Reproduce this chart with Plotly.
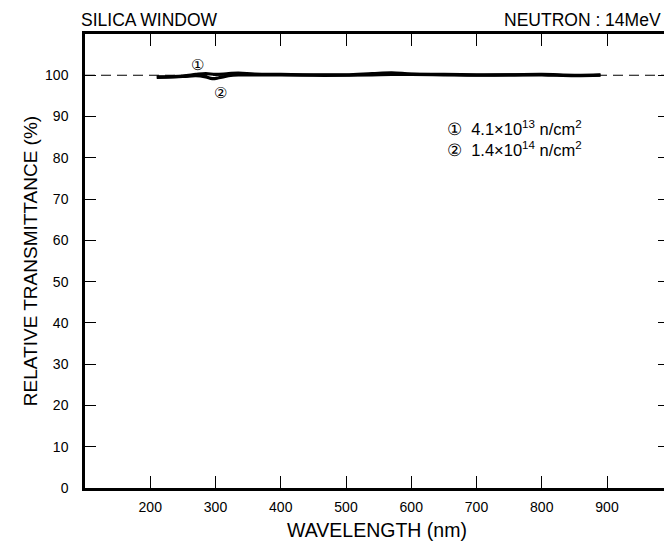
import plotly.graph_objects as go

wl1 = [210, 250, 270, 285, 300, 320, 335, 360, 400, 450, 500, 540, 570, 600, 650, 700, 750, 800, 850, 890]
t1 = [99.6, 99.8, 100.2, 100.4, 100.2, 100.4, 100.5, 100.3, 100.2, 100.1, 100.1, 100.4, 100.6, 100.3, 100.2, 100.1, 100.1, 100.2, 100.0, 100.1]
wl2 = [210, 250, 270, 285, 295, 305, 320, 335, 360, 400, 450, 500, 540, 570, 600, 650, 700, 750, 800, 850, 890]
t2 = [99.5, 99.7, 99.9, 99.6, 99.2, 99.4, 99.9, 100.1, 100.1, 100.1, 100.0, 100.0, 100.1, 100.2, 100.2, 100.1, 100.0, 100.1, 100.1, 99.9, 100.0]

x_ticks = [200, 300, 400, 500, 600, 700, 800, 900]
y_ticks = [0, 10, 20, 30, 40, 50, 60, 70, 80, 90, 100]

FONT = "Liberation Sans, Arial, Helvetica, sans-serif"

fig = go.Figure()
fig.add_trace(go.Scatter(x=wl1, y=t1, mode="lines", line=dict(color="black", width=3.2, shape="spline"), showlegend=False))
fig.add_trace(go.Scatter(x=wl2, y=t2, mode="lines", line=dict(color="black", width=3.2, shape="spline"), showlegend=False))

fig.add_shape(type="line", xref="paper", yref="y", x0=0, x1=1, y0=100, y1=100,
              line=dict(color="black", width=1.2, dash="10px,6px"), layer="below")

fig.add_annotation(x=272, y=102.7, text="①", showarrow=False, font=dict(size=15, family=FONT, color="black"))
fig.add_annotation(x=307, y=95.9, text="②", showarrow=False, font=dict(size=15, family=FONT, color="black"))
fig.add_annotation(x=651, y=84.8, xanchor="left", yanchor="middle",
                   text="①  4.1×10<sup>13</sup> n/cm<sup>2</sup><br>②  1.4×10<sup>14</sup> n/cm<sup>2</sup>",
                   align="left", showarrow=False, font=dict(size=16.5, family=FONT, color="black"))

fig.add_annotation(xref="paper", yref="paper", x=-0.01, y=1.004, xanchor="left", yanchor="bottom",
                   text="SILICA WINDOW", showarrow=False, font=dict(size=17.5, family=FONT, color="black"))
fig.add_annotation(xref="paper", yref="paper", x=0.99, y=1.004, xanchor="right", yanchor="bottom",
                   text="NEUTRON : 14MeV", showarrow=False, font=dict(size=17.5, family=FONT, color="black"))

fig.update_layout(
    width=664, height=533,
    margin=dict(l=77, r=0, t=26, b=53),
    paper_bgcolor="white", plot_bgcolor="white",
    font=dict(family=FONT, size=14, color="black"),
)
fig.update_xaxes(range=[100, 995], tickvals=x_ticks, ticks="inside", ticklen=12, tickwidth=1.2,
                 tickcolor="black", showline=True, linecolor="black", linewidth=2.5, mirror="ticks",
                 showgrid=False, zeroline=False, tickfont=dict(size=14), ticklabelstandoff=4,
                 title=dict(text="WAVELENGTH (nm)", font=dict(size=19.5), standoff=12))
fig.update_yaxes(range=[0, 110], tickvals=y_ticks, ticks="inside", ticklen=11, tickwidth=1.2,
                 tickcolor="black", showline=True, linecolor="black", linewidth=2.5, mirror="ticks",
                 showgrid=False, zeroline=False, tickfont=dict(size=14), ticklabelstandoff=11,
                 title=dict(text="RELATIVE TRANSMITTANCE (%)", font=dict(size=19), standoff=3))

fig.write_html("out.html")
